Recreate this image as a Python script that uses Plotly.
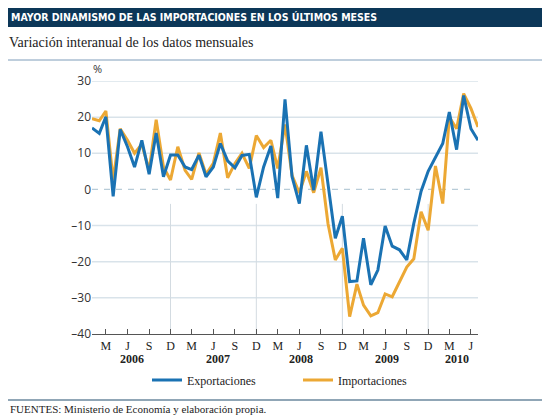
import pandas as pd
import plotly.graph_objects as go

# monthly y/y change, Jan 2006 - Jul 2010
meses = pd.date_range("2006-01-01", "2010-07-01", freq="MS")

exportaciones = [
    17.0, 15.5, 20.1, -1.9, 16.6, 11.8, 6.2, 13.6, 4.2, 15.6, 3.5, 9.5,
    9.5, 6.2, 5.5, 9.5, 3.5, 6.2, 12.7, 7.9, 6.0, 9.4, 9.7, -2.2,
    6.2, 12.0, -2.4, 24.9, 3.5, -3.9, 12.2, -0.2, 16.0, 2.0, -13.5, -7.4,
    -25.5, -25.3, -13.5, -26.4, -22.3, -10.1, -15.7, -16.7, -19.5, -9.4, -0.5, 5.0,
    9.0, 12.7, 21.4, 11.0, 26.0, 16.8, 13.6,
]
importaciones = [
    19.6, 19.0, 21.7, 2.5, 16.8, 13.6, 10.0, 12.5, 5.3, 19.3, 6.2, 2.6,
    11.8, 5.3, 2.8, 10.1, 4.2, 7.2, 15.6, 3.2, 7.2, 10.0, 5.8, 14.9,
    11.6, 13.6, 5.8, 18.0, 3.9, -1.0, 5.0, -0.9, 6.0, -9.5, -19.5, -16.3,
    -35.2, -26.2, -32.0, -35.0, -34.1, -28.9, -29.7, -25.5, -21.5, -19.2, -6.2, -11.3,
    6.5, -3.9, 20.0, 16.8, 26.5, 22.4, 17.3,
]

tick_fechas = ["2006-01-01"] + [f"{a}-{m:02d}-01" for a in range(2006, 2011) for m in (3, 6, 9, 12)
                                if f"{a}-{m:02d}" <= "2010-06"] + ["2010-07-01"]
tick_letras = [""] + [{3: "M", 6: "J", 9: "S", 12: "D"}[int(f[5:7])] for f in tick_fechas[1:-1]] + [""]

y_ticks = [-40, -30, -20, -10, 0, 10, 20, 30]
y_text = [("–" + str(-v)) if v < 0 else str(v) for v in y_ticks]
rejilla = [30, 20, 10, -10, -20, -30]

anios = ["2006", "2007", "2008", "2009", "2010"]
anios_pos = ["2006-06-20", "2007-06-20", "2008-06-10", "2009-06-10", "2010-04-01"]
diciembres = ["2006-12-01", "2007-12-01", "2008-12-01", "2009-12-01"]

AZUL = "#1a72b3"
NARANJA = "#eca834"
SERIF = "Liberation Serif"

W, H = 550, 419
OFF = 8  # page body margin
L, R, T, B = 92, 478, 81, 334  # plot box on the page


def px(x):
    return (x - L) / (R - L)


def py(y):
    return (B - y) / (B - T)


fig = go.Figure()
fig.add_trace(go.Scatter(x=meses, y=importaciones, mode="lines", name="Importaciones",
                         line=dict(color=NARANJA, width=3)))
fig.add_trace(go.Scatter(x=meses, y=exportaciones, mode="lines", name="Exportaciones",
                         line=dict(color=AZUL, width=3)))

for v in rejilla:
    fig.add_hline(y=v, line=dict(color="#d9e3ea", width=1.5), layer="below")
fig.add_shape(type="line", xref="x", yref="y", x0="2006-01-01", x1="2010-06-01", y0=0, y1=0,
              line=dict(color="#b8ccd8", width=1.2, dash="6px,6px"), layer="below")
for d in diciembres:
    fig.add_shape(type="line", xref="x", yref="y", x0=d, x1=d, y0=-40, y1=-4,
                  line=dict(color="#d3dbe1", width=1), layer="below")

for a, pos in zip(anios, anios_pos):
    fig.add_annotation(x=pos, y=py(359), xref="x", yref="paper", text="<b>" + a + "</b>",
                       xanchor="center", yanchor="middle",
                       showarrow=False, font=dict(family=SERIF, size=12, color="#222"))

# header, rules and footer
fig.add_shape(type="rect", xref="paper", yref="paper", x0=px(0), x1=px(W + OFF), y0=py(27), y1=py(0),
              fillcolor="#0c3758", line=dict(width=0))
fig.add_annotation(x=px(9), y=py(17), xref="paper", yref="paper", xanchor="left", yanchor="middle",
                   text="<b>MAYOR DINAMISMO DE LAS IMPORTACIONES EN LOS ÚLTIMOS MESES</b>",
                   showarrow=False, font=dict(family="DejaVu Sans Condensed", size=10.5, color="white"))
fig.add_annotation(x=px(7), y=py(43), xref="paper", yref="paper", xanchor="left", yanchor="middle",
                   text="Variación interanual de los datos mensuales",
                   showarrow=False, font=dict(family=SERIF, size=14, color="#222"))
fig.add_shape(type="line", xref="paper", yref="paper", x0=px(0), x1=px(W + OFF), y0=py(60), y1=py(60),
              line=dict(color="#7f9dba", width=1))
fig.add_annotation(x=px(97), y=py(68), xref="paper", yref="paper", xanchor="center", yanchor="middle",
                   text="%", showarrow=False, font=dict(family="Open Sans", size=11, color="#333"))
fig.add_shape(type="line", xref="paper", yref="paper", x0=px(0), x1=px(W + OFF), y0=py(400), y1=py(400),
              line=dict(color="#90a6b6", width=2))
fig.add_annotation(x=px(OFF), y=py(409), xref="paper", yref="paper", xanchor="left", yanchor="middle",
                   text="FUENTES: Ministerio de Economía y elaboración propia.",
                   showarrow=False, font=dict(family=SERIF, size=11, color="#222"))

fig.update_layout(
    width=W, height=H,
    margin=dict(l=L - OFF, r=W - (R - OFF), t=T - OFF, b=H - (B - OFF), autoexpand=False),
    plot_bgcolor="white", paper_bgcolor="white",
    showlegend=True,
    legend=dict(orientation="h", x=px(147), y=py(380), xanchor="left", yanchor="middle",
                traceorder="reversed", entrywidth=106, entrywidthmode="pixels",
                font=dict(family=SERIF, size=12, color="#222")),
    xaxis=dict(type="date", range=["2006-01-01", "2010-07-01"], showgrid=False,
               showline=True, linecolor="#555", linewidth=1.2,
               ticks="inside", ticklen=5, tickcolor="#555", tickwidth=1,
               tickvals=tick_fechas, ticktext=tick_letras,
               tickfont=dict(family=SERIF, size=12, color="#222")),
    yaxis=dict(range=[-40, 30], showgrid=False, zeroline=False, showline=False,
               tickvals=y_ticks, ticktext=y_text, ticks="",
               tickfont=dict(family="Open Sans", size=12, color="#333")),
)

fig.write_html("out.html")
